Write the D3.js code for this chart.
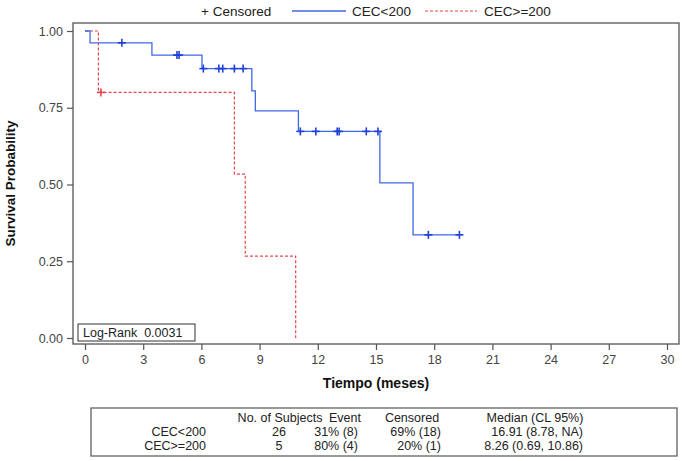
<!DOCTYPE html>
<html><head><meta charset="utf-8">
<script src="https://cdn.jsdelivr.net/npm/d3@7"></script>
<style>body{margin:0;background:#fff;} svg{display:block;font-family:"Liberation Sans",Arial,sans-serif;}</style>
</head><body>
<svg id="c" width="685" height="461"></svg>
<script>
// ---- data ----
const groups = ["CEC<200", "CEC>=200"];
const blueTimes = [0, 0.26, 3.45, 6.03, 8.6, 8.78, 11.0, 15.2, 16.91];
const blueSurv  = [1, 0.9615, 0.9215, 0.8776, 0.805, 0.740, 0.673, 0.505, 0.336];
const blueEnd = 19.3;
const blueCensorT = [1.9, 4.74, 4.85, 6.1, 6.9, 7.1, 7.7, 8.15, 11.1, 11.9, 13.0, 13.1, 14.5, 15.1, 17.7, 19.3];
const redTimes = [0, 0.69, 7.7, 8.26, 10.86];
const redSurv  = [1, 0.8, 0.534, 0.267, 0];
const redCensorT = [0.82];
const xTicks = [0, 3, 6, 9, 12, 15, 18, 21, 24, 27, 30];
const yTicks = [0, 0.25, 0.5, 0.75, 1];
const logRank = "Log-Rank  0.0031";
const tableHeader = ["No. of Subjects", "Event", "Censored", "Median (CL 95%)"];
const tableRows = [
  ["CEC<200", "26", "31% (8)", "69% (18)", "16.91 (8.78, NA)"],
  ["CEC>=200", "5", "80% (4)", "20% (1)", "8.26 (0.69, 10.86)"]
];

// ---- layout ----
const svg = d3.select("#c");
const blue = "#4069e4", blueMark = "#1f3fd6", red = "#e8464b";
const frame = {l: 73, t: 23, r: 679, b: 344};
const x = d3.scaleLinear().domain([0, 30]).range([85, 667]);
const y = d3.scaleLinear().domain([0, 1]).range([338, 31]);

// frame
svg.append("rect").attr("x", frame.l).attr("y", frame.t)
  .attr("width", frame.r - frame.l).attr("height", frame.b - frame.t)
  .attr("fill", "none").attr("stroke", "#555").attr("stroke-width", 1.3);

// axes
const yAxis = svg.append("g").attr("transform", `translate(${frame.l},0)`)
  .call(d3.axisLeft(y).tickValues(yTicks).tickFormat(d3.format(".2f")).tickSize(6).tickPadding(4));
const xAxis = svg.append("g").attr("transform", `translate(0,${frame.b})`)
  .call(d3.axisBottom(x).tickValues(xTicks).tickSize(6).tickPadding(5));
[yAxis, xAxis].forEach(g => {
  g.select(".domain").remove();
  g.selectAll("line").attr("stroke", "#555").attr("stroke-width", 1.2);
  g.selectAll("text").attr("fill", "#444").attr("font-size", 12.5).attr("font-family", "Liberation Sans, Arial, sans-serif");
});

// axis titles
svg.append("text").attr("x", x(15)).attr("y", 388).attr("text-anchor", "middle")
  .attr("font-size", 14).attr("font-weight", "bold").attr("fill", "#111").text("Tiempo (meses)");
svg.append("text").attr("transform", `translate(15,${(frame.t + frame.b) / 2}) rotate(-90)`)
  .attr("text-anchor", "middle").attr("font-size", 13.5).attr("font-weight", "bold").attr("fill", "#111")
  .text("Survival Probability");

// curves
const line = d3.line().x(d => x(d[0])).y(d => y(d[1])).curve(d3.curveStepAfter);
const bluePts = blueTimes.map((t, i) => [t, blueSurv[i]]).concat([[blueEnd, blueSurv[blueSurv.length - 1]]]);
const redPts = redTimes.map((t, i) => [t, redSurv[i]]);
svg.append("path").attr("d", line(redPts)).attr("fill", "none").attr("stroke", red)
  .attr("stroke-width", 1.2).attr("stroke-dasharray", "3,2");
svg.append("path").attr("d", line(bluePts)).attr("fill", "none").attr("stroke", blue).attr("stroke-width", 1.3);

function survAt(times, surv, t) {
  let s = surv[0];
  for (let i = 0; i < times.length; i++) if (times[i] <= t) s = surv[i];
  return s;
}
function plus(g, cx, cy, col) {
  g.append("line").attr("x1", cx - 4).attr("x2", cx + 4).attr("y1", cy).attr("y2", cy).attr("stroke", col).attr("stroke-width", 1.6);
  g.append("line").attr("x1", cx).attr("x2", cx).attr("y1", cy - 4).attr("y2", cy + 4).attr("stroke", col).attr("stroke-width", 1.6);
}
const marks = svg.append("g");
blueCensorT.forEach(t => plus(marks, x(t), y(survAt(blueTimes, blueSurv, t)), blueMark));
redCensorT.forEach(t => plus(marks, x(t), y(survAt(redTimes, redSurv, t)), red));

// log-rank box
svg.append("rect").attr("x", 78).attr("y", 324).attr("width", 117).attr("height", 17)
  .attr("fill", "#fff").attr("stroke", "#333").attr("stroke-width", 1);
svg.append("text").attr("x", 83).attr("y", 337).attr("font-size", 12.5).attr("fill", "#222")
  .attr("xml:space", "preserve").style("white-space", "pre").text(logRank);

// legend
const lg = svg.append("g").attr("font-size", 13.5).attr("fill", "#222");
lg.append("text").attr("x", 201).attr("y", 16).text("+ Censored");
lg.append("line").attr("x1", 292).attr("x2", 346).attr("y1", 11).attr("y2", 11).attr("stroke", blue).attr("stroke-width", 1.3);
lg.append("text").attr("x", 352).attr("y", 16).text(groups[0]);
lg.append("line").attr("x1", 425).attr("x2", 477).attr("y1", 11).attr("y2", 11).attr("stroke", red).attr("stroke-width", 1.2).attr("stroke-dasharray", "3,2");
lg.append("text").attr("x", 484).attr("y", 16).text(groups[1]);

// table
svg.append("rect").attr("x", 91).attr("y", 408).attr("width", 586).attr("height", 48)
  .attr("fill", "#fff").attr("stroke", "#555").attr("stroke-width", 1.2);
const tg = svg.append("g").attr("font-size", 12.5).attr("fill", "#222");
const hx = [{x: 280, a: "middle"}, {x: 345, a: "middle"}, {x: 412, a: "middle"}, {x: 535, a: "middle"}];
tableHeader.forEach((h, i) => tg.append("text").attr("x", hx[i].x).attr("y", 422).attr("text-anchor", hx[i].a).text(h));
const cx = [{x: 206, a: "end"}, {x: 279, a: "middle"}, {x: 358, a: "end"}, {x: 441, a: "end"}, {x: 583, a: "end"}];
tableRows.forEach((r, j) => r.forEach((c, i) =>
  tg.append("text").attr("x", cx[i].x).attr("y", 436 + j * 14).attr("text-anchor", cx[i].a).text(c)));
</script>
</body></html>
